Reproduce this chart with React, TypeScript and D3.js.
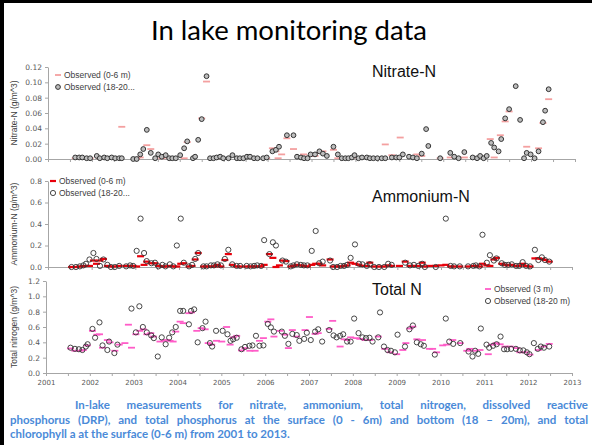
import React, { useRef, useEffect } from "react";
import * as d3 from "d3";

// year labels on the bottom axis
const yearLabels = [2001, 2002, 2003, 2004, 2005, 2006, 2007, 2008, 2009, 2010, 2011, 2012, 2013];

const nitrateTicks = [0, 0.02, 0.04, 0.06, 0.08, 0.1, 0.12];
const ammoniumTicks = [0, 0.2, 0.4, 0.6, 0.8];
const totalNTicks = [0, 0.2, 0.4, 0.6, 0.8, 1.0, 1.2];

// [decimal year, g/m^3]
const nitrateSurface = [
  [2001.62, 0.001], [2001.78, 0.001], [2001.96, 0.001], [2002.18, 0.001], [2002.35, 0.001], [2002.53, 0.001],
  [2002.68, 0.042], [2003.02, 0.0], [2003.1, 0.002], [2003.25, 0.018], [2003.34, 0.013], [2003.59, 0.001],
  [2003.76, 0.001], [2004.1, 0.001], [2004.17, 0.022], [2004.5, 0.053], [2004.61, 0.101], [2004.92, 0.001],
  [2005.37, 0.001], [2005.69, 0.001], [2005.98, 0.001], [2006.11, 0.014], [2006.19, 0.01], [2006.24, 0.001],
  [2006.32, 0.006], [2006.44, 0.027], [2006.59, 0.013], [2006.82, 0.006], [2006.98, 0.004], [2007.08, 0.004],
  [2007.18, 0.008], [2007.26, 0.01], [2007.5, 0.012], [2007.6, 0.001], [2008.0, 0.002], [2008.2, 0.002],
  [2008.33, 0.001], [2008.68, 0.019], [2008.83, 0.005], [2009.02, 0.028], [2009.4, 0.006], [2009.51, 0.004],
  [2009.93, 0.001], [2010.16, 0.002], [2010.48, 0.002], [2010.77, 0.002], [2011.07, 0.026], [2011.16, 0.002],
  [2011.3, 0.031], [2011.41, 0.049], [2011.5, 0.062], [2011.9, 0.016], [2012.17, 0.014], [2012.27, 0.047],
  [2012.4, 0.078],
];

const nitrateBottom = [
  [2001.62, 0.002], [2001.71, 0.002], [2001.78, 0.002], [2001.88, 0.001], [2001.96, 0.001], [2002.11, 0.004],
  [2002.18, 0.001], [2002.28, 0.002], [2002.35, 0.001], [2002.45, 0.002], [2002.53, 0.001], [2002.62, 0.001],
  [2002.68, 0.001], [2002.94, 0.0], [2003.02, 0.0], [2003.1, 0.006], [2003.17, 0.013], [2003.25, 0.038],
  [2003.34, 0.008], [2003.44, 0.001], [2003.51, 0.006], [2003.59, 0.003], [2003.68, 0.005], [2003.76, 0.001],
  [2003.83, 0.001], [2003.91, 0.001], [2004.01, 0.005], [2004.1, 0.014], [2004.17, 0.023], [2004.3, 0.001],
  [2004.35, 0.003], [2004.42, 0.025], [2004.5, 0.052], [2004.61, 0.108], [2004.69, 0.001], [2004.77, 0.001],
  [2004.84, 0.002], [2004.92, 0.003], [2004.99, 0.001], [2005.11, 0.001], [2005.2, 0.005], [2005.3, 0.001],
  [2005.37, 0.001], [2005.45, 0.001], [2005.53, 0.003], [2005.6, 0.003], [2005.69, 0.001], [2005.77, 0.001],
  [2005.9, 0.001], [2005.98, 0.002], [2006.11, 0.01], [2006.19, 0.012], [2006.26, 0.016], [2006.44, 0.031],
  [2006.59, 0.031], [2006.67, 0.003], [2006.76, 0.002], [2006.83, 0.001], [2006.91, 0.001], [2006.98, 0.006],
  [2007.08, 0.006], [2007.18, 0.01], [2007.26, 0.007], [2007.35, 0.004], [2007.5, 0.016], [2007.6, 0.006],
  [2007.69, 0.001], [2007.77, 0.001], [2007.84, 0.001], [2007.92, 0.002], [2007.98, 0.005], [2008.07, 0.001],
  [2008.15, 0.002], [2008.26, 0.002], [2008.33, 0.001], [2008.41, 0.001], [2008.5, 0.001], [2008.6, 0.001],
  [2008.68, 0.001], [2008.83, 0.002], [2008.93, 0.002], [2009.0, 0.002], [2009.08, 0.006], [2009.22, 0.003],
  [2009.31, 0.002], [2009.4, 0.001], [2009.51, 0.007], [2009.61, 0.039], [2009.66, 0.017], [2009.93, 0.001],
  [2010.16, 0.008], [2010.25, 0.003], [2010.35, 0.001], [2010.48, 0.009], [2010.67, 0.002], [2010.77, 0.001],
  [2010.84, 0.004], [2010.92, 0.001], [2010.99, 0.004], [2011.09, 0.021], [2011.16, 0.015], [2011.26, 0.01],
  [2011.32, 0.026], [2011.41, 0.053], [2011.5, 0.065], [2011.65, 0.095], [2011.75, 0.051], [2011.84, 0.001],
  [2011.9, 0.008], [2011.99, 0.006], [2012.08, 0.001], [2012.17, 0.01], [2012.27, 0.048], [2012.32, 0.063],
  [2012.4, 0.091],
];

const ammoniumSurface = [
  [2001.54, 0.0], [2001.64, 0.0], [2001.73, 0.005], [2001.81, 0.008], [2001.87, 0.01], [2001.95, 0.01],
  [2002.04, 0.06], [2002.11, 0.03], [2002.19, 0.06], [2002.27, 0.075], [2002.36, 0.01], [2002.44, 0.005],
  [2002.53, 0.005], [2002.63, 0.01], [2002.79, 0.01], [2002.88, 0.01], [2002.95, 0.01], [2003.03, 0.005],
  [2003.12, 0.1], [2003.2, 0.02], [2003.26, 0.05], [2003.37, 0.035], [2003.45, 0.035], [2003.53, 0.01],
  [2003.62, 0.005], [2003.69, 0.005], [2003.79, 0.01], [2003.87, 0.005], [2003.95, 0.005], [2004.04, 0.03],
  [2004.11, 0.035], [2004.23, 0.005], [2004.3, 0.01], [2004.37, 0.07], [2004.44, 0.13], [2004.56, 0.005],
  [2004.63, 0.005], [2004.73, 0.005], [2004.8, 0.005], [2004.88, 0.02], [2004.96, 0.005], [2005.05, 0.065],
  [2005.13, 0.12], [2005.22, 0.02], [2005.32, 0.005], [2005.4, 0.005], [2005.55, 0.005], [2005.64, 0.005],
  [2005.72, 0.005], [2005.79, 0.005], [2005.88, 0.005], [2005.95, 0.02], [2006.07, 0.12], [2006.15, 0.085],
  [2006.22, 0.0], [2006.3, 0.015], [2006.37, 0.06], [2006.45, 0.055], [2006.56, 0.005], [2006.62, 0.01],
  [2006.7, 0.02], [2006.79, 0.015], [2006.86, 0.01], [2006.94, 0.005], [2007.04, 0.02], [2007.13, 0.03],
  [2007.21, 0.03], [2007.29, 0.015], [2007.46, 0.07], [2007.53, 0.005], [2007.62, 0.005], [2007.7, 0.005],
  [2007.78, 0.01], [2007.85, 0.015], [2007.93, 0.04], [2008.03, 0.03], [2008.12, 0.02], [2008.2, 0.01],
  [2008.3, 0.01], [2008.37, 0.04], [2008.47, 0.005], [2008.58, 0.005], [2008.7, 0.005], [2008.79, 0.015],
  [2008.87, 0.01], [2009.05, 0.01], [2009.18, 0.05], [2009.29, 0.01], [2009.38, 0.01], [2009.48, 0.01],
  [2009.57, 0.04], [2009.63, 0.005], [2009.75, 0.01], [2009.88, 0.01], [2010.0, 0.015], [2010.11, 0.02],
  [2010.22, 0.005], [2010.3, 0.005], [2010.43, 0.005], [2010.62, 0.005], [2010.74, 0.01], [2010.8, 0.01],
  [2010.88, 0.005], [2010.95, 0.03], [2011.05, 0.015], [2011.12, 0.01], [2011.21, 0.07], [2011.27, 0.085],
  [2011.39, 0.03], [2011.46, 0.02], [2011.54, 0.015], [2011.62, 0.02], [2011.72, 0.01], [2011.79, 0.01],
  [2011.87, 0.03], [2011.95, 0.01], [2012.04, 0.005], [2012.15, 0.08], [2012.23, 0.08], [2012.31, 0.075],
  [2012.38, 0.065], [2012.48, 0.05],
];

const ammoniumBottom = [
  [2001.54, 0.0], [2001.64, 0.0], [2001.73, 0.006], [2001.81, 0.015], [2001.87, 0.03], [2001.95, 0.07],
  [2002.04, 0.13], [2002.11, 0.075], [2002.19, 0.01], [2002.27, 0.07], [2002.36, 0.02], [2002.44, 0.0],
  [2002.53, 0.0], [2002.63, 0.01], [2002.79, 0.006], [2002.88, 0.015], [2002.95, 0.01], [2003.03, 0.15],
  [2003.12, 0.45], [2003.2, 0.13], [2003.26, 0.055], [2003.37, 0.035], [2003.45, 0.04], [2003.53, 0.006],
  [2003.62, 0.02], [2003.69, 0.006], [2003.79, 0.025], [2003.87, 0.006], [2003.95, 0.2], [2004.04, 0.45],
  [2004.11, 0.04], [2004.23, 0.006], [2004.3, 0.02], [2004.37, 0.075], [2004.44, 0.13], [2004.56, 0.006],
  [2004.63, 0.006], [2004.73, 0.015], [2004.8, 0.015], [2004.88, 0.025], [2004.96, 0.015], [2005.05, 0.075],
  [2005.13, 0.16], [2005.22, 0.025], [2005.32, 0.01], [2005.4, 0.01], [2005.55, 0.01], [2005.64, 0.006],
  [2005.72, 0.01], [2005.79, 0.015], [2005.88, 0.01], [2005.95, 0.25], [2006.07, 0.12], [2006.15, 0.23],
  [2006.22, 0.2], [2006.37, 0.06], [2006.45, 0.05], [2006.56, 0.006], [2006.62, 0.015], [2006.7, 0.025],
  [2006.79, 0.02], [2006.86, 0.015], [2006.94, 0.015], [2007.04, 0.15], [2007.13, 0.335], [2007.21, 0.035],
  [2007.29, 0.05], [2007.46, 0.06], [2007.53, 0.0], [2007.62, 0.0], [2007.7, 0.01], [2007.78, 0.01],
  [2007.85, 0.02], [2007.93, 0.085], [2008.03, 0.21], [2008.12, 0.03], [2008.2, 0.025], [2008.3, 0.01],
  [2008.37, 0.027], [2008.47, 0.0], [2008.58, 0.0], [2008.7, 0.0], [2008.79, 0.03], [2008.87, 0.02],
  [2009.18, 0.04], [2009.29, 0.015], [2009.38, 0.02], [2009.48, 0.01], [2009.57, 0.03], [2009.63, 0.0],
  [2009.88, 0.0], [2010.11, 0.45], [2010.22, 0.01], [2010.3, 0.006], [2010.43, 0.006], [2010.62, 0.006],
  [2010.74, 0.01], [2010.8, 0.015], [2010.88, 0.006], [2010.95, 0.3], [2011.05, 0.04], [2011.12, 0.11],
  [2011.21, 0.06], [2011.27, 0.08], [2011.39, 0.035], [2011.46, 0.02], [2011.54, 0.02], [2011.62, 0.025],
  [2011.72, 0.01], [2011.79, 0.01], [2011.87, 0.045], [2011.95, 0.01], [2012.04, 0.006], [2012.15, 0.16],
  [2012.23, 0.065], [2012.31, 0.09], [2012.38, 0.065], [2012.48, 0.05],
];

const totalNSurface = [
  [2001.56, 0.32], [2001.66, 0.29], [2001.78, 0.29], [2001.85, 0.3], [2001.94, 0.36], [2002.06, 0.55],
  [2002.16, 0.5], [2002.22, 0.505], [2002.29, 0.33], [2002.4, 0.43], [2002.46, 0.4], [2002.57, 0.29],
  [2002.67, 0.37], [2002.8, 0.39], [2002.88, 0.63], [2002.95, 0.33], [2003.05, 0.505], [2003.14, 0.55],
  [2003.22, 0.57], [2003.3, 0.505], [2003.39, 0.52], [2003.45, 0.475], [2003.6, 0.41], [2003.69, 0.42],
  [2003.75, 0.43], [2003.83, 0.42], [2003.9, 0.41], [2003.96, 0.54], [2004.06, 0.67], [2004.13, 0.65],
  [2004.26, 0.78], [2004.32, 0.79], [2004.44, 0.55], [2004.54, 0.585], [2004.63, 0.57], [2004.7, 0.39],
  [2004.78, 0.37], [2004.89, 0.42], [2005.01, 0.41], [2005.12, 0.6], [2005.2, 0.37], [2005.27, 0.465],
  [2005.35, 0.485], [2005.46, 0.295], [2005.54, 0.325], [2005.65, 0.29], [2005.77, 0.29], [2005.87, 0.42],
  [2005.96, 0.455], [2006.06, 0.67], [2006.13, 0.7], [2006.2, 0.475], [2006.34, 0.55], [2006.45, 0.5],
  [2006.53, 0.325], [2006.62, 0.56], [2006.72, 0.475], [2006.91, 0.56], [2007.01, 0.73], [2007.14, 0.51],
  [2007.21, 0.52], [2007.46, 0.575], [2007.54, 0.68], [2007.71, 0.345], [2007.8, 0.44], [2007.87, 0.43],
  [2007.95, 0.465], [2008.07, 0.455], [2008.16, 0.445], [2008.28, 0.43], [2008.39, 0.43], [2008.58, 0.475],
  [2008.73, 0.315], [2008.85, 0.27], [2009.0, 0.245], [2009.14, 0.3], [2009.21, 0.39], [2009.3, 0.58],
  [2009.37, 0.605], [2009.46, 0.44], [2009.59, 0.43], [2009.75, 0.315], [2009.82, 0.315], [2009.91, 0.27],
  [2010.05, 0.36], [2010.14, 0.37], [2010.28, 0.43], [2010.45, 0.39], [2010.6, 0.29], [2010.67, 0.315],
  [2010.76, 0.29], [2010.9, 0.3], [2011.09, 0.245], [2011.17, 0.37], [2011.27, 0.39], [2011.36, 0.375],
  [2011.47, 0.345], [2011.59, 0.345], [2011.74, 0.325], [2011.81, 0.27], [2011.93, 0.27], [2012.04, 0.24],
  [2012.23, 0.3], [2012.36, 0.345], [2012.48, 0.38],
];

const totalNBottom = [
  [2001.56, 0.33], [2001.66, 0.315], [2001.75, 0.31], [2001.83, 0.3], [2001.91, 0.345], [2001.95, 0.375],
  [2002.06, 0.575], [2002.12, 0.46], [2002.22, 0.66], [2002.29, 0.36], [2002.4, 0.3], [2002.44, 0.41],
  [2002.56, 0.26], [2002.63, 0.37], [2002.95, 0.84], [2003.05, 0.53], [2003.13, 0.87], [2003.21, 0.6],
  [2003.3, 0.53], [2003.4, 0.49], [2003.46, 0.455], [2003.55, 0.215], [2003.64, 0.465], [2003.73, 0.375],
  [2003.81, 0.46], [2003.88, 0.53], [2003.96, 0.6], [2004.06, 0.81], [2004.13, 0.81], [2004.26, 0.635],
  [2004.31, 0.81], [2004.38, 0.83], [2004.46, 0.4], [2004.57, 0.585], [2004.64, 0.67], [2004.74, 0.39],
  [2004.79, 0.345], [2004.88, 0.55], [2005.03, 0.55], [2005.14, 0.505], [2005.21, 0.42], [2005.27, 0.44],
  [2005.35, 0.46], [2005.46, 0.31], [2005.54, 0.34], [2005.64, 0.355], [2005.71, 0.36], [2005.79, 0.485],
  [2005.87, 0.355], [2005.96, 0.36], [2006.06, 0.64], [2006.13, 0.595], [2006.2, 0.54], [2006.38, 0.54],
  [2006.45, 0.485], [2006.53, 0.38], [2006.62, 0.51], [2006.72, 0.495], [2006.78, 0.42], [2006.89, 0.445],
  [2006.95, 0.525], [2007.04, 0.43], [2007.14, 0.54], [2007.21, 0.57], [2007.3, 0.41], [2007.46, 0.56],
  [2007.56, 0.49], [2007.63, 0.465], [2007.71, 0.485], [2007.78, 0.505], [2007.87, 0.41], [2007.95, 0.41],
  [2008.03, 0.71], [2008.13, 0.52], [2008.22, 0.465], [2008.3, 0.455], [2008.38, 0.46], [2008.45, 0.41],
  [2008.58, 0.465], [2008.62, 0.79], [2008.71, 0.345], [2008.79, 0.3], [2008.87, 0.29], [2008.96, 0.27],
  [2009.02, 0.5], [2009.19, 0.345], [2009.29, 0.57], [2009.37, 0.62], [2009.46, 0.4], [2009.55, 0.375],
  [2009.62, 0.355], [2009.87, 0.24], [2010.12, 0.71], [2010.2, 0.41], [2010.29, 0.38], [2010.45, 0.39],
  [2010.64, 0.28], [2010.73, 0.215], [2010.79, 0.29], [2010.86, 0.25], [2010.92, 0.58], [2011.05, 0.37],
  [2011.11, 0.33], [2011.2, 0.355], [2011.28, 0.375], [2011.37, 0.475], [2011.45, 0.31], [2011.52, 0.31],
  [2011.61, 0.315], [2011.72, 0.315], [2011.81, 0.295], [2011.89, 0.295], [2011.97, 0.27], [2012.03, 0.245],
  [2012.13, 0.39], [2012.22, 0.315], [2012.29, 0.345], [2012.36, 0.33], [2012.48, 0.345],
];

const captionLines = [
  "In-lake measurements for nitrate, ammonium, total nitrogen, dissolved reactive",
  "phosphorus (DRP), and total phosphorus at the surface (0 - 6m) and bottom (18 \u2013 20m), and total",
  "chlorophyll a at the surface (0-6 m) from 2001 to 2013.",
];

const panels = [
  {
    title: "Nitrate-N", yLabel: "Nitrate-N (g/m^3)", ticks: nitrateTicks, fmt: ".2f",
    surface: nitrateSurface, bottom: nitrateBottom,
    legend: ["Observed (0-6 m)", "Observed (18-20..."],
    xRange: [48, 575], yRange: [159, 67], titleY: 77, legendX: 55, legendY: 75,
    dash: "#f4a0a0", dashW: 1.8, circleFill: "#bdbdbd", circleStroke: "#333", circleW: 1,
    r: 2.4,
  },
  {
    title: "Ammonium-N", yLabel: "Ammonium-N (g/m^3)", ticks: ammoniumTicks, fmt: ".1f",
    surface: ammoniumSurface, bottom: ammoniumBottom,
    legend: ["Observed (0-6 m)", "Observed (18-20..."],
    xRange: [48, 572], yRange: [267, 181], titleY: 202, legendX: 50, legendY: 181,
    dash: "#e8000b", dashW: 2.2, circleFill: "none", circleStroke: "#333", circleW: 0.9,
    r: 2.6,
  },
  {
    title: "Total N", yLabel: "Total nitrogen (g/m^3)", ticks: totalNTicks, fmt: ".1f",
    surface: totalNSurface, bottom: totalNBottom,
    legend: ["Observed (3 m)", "Observed (18-20 m)"],
    xRange: [46, 572], yRange: [373, 281], titleY: 295, legendX: 485, legendY: 289,
    dash: "#ff5cc8", dashW: 1.8, circleFill: "none", circleStroke: "#333", circleW: 0.9,
    r: 2.6,
  },
];

const App = () => {
  const svgRef = useRef<SVGSVGElement>(null);

  useEffect(() => {
    const svg = d3.select(svgRef.current);
    svg.selectAll("*").remove();

    svg.append("rect").attr("width", 592).attr("height", 445).attr("fill", "#fff");

    // slide frame (black edges on left and top)
    svg.append("rect").attr("x", 0).attr("y", 0).attr("width", 4).attr("height", 445).attr("fill", "#000");
    svg.append("rect").attr("x", 0).attr("y", 0).attr("width", 592).attr("height", 3).attr("fill", "#000");

    svg.append("text")
      .attr("x", 289)
      .attr("y", 40)
      .attr("text-anchor", "middle")
      .style("font-family", "Lato, 'Open Sans', sans-serif")
      .style("font-size", "27.5px")
      .attr("fill", "#000")
      .text("In lake monitoring data");

    const halfYears = d3.range(2001, 2013.01, 0.5);

    panels.forEach((p, i) => {
      const x = d3.scaleLinear().domain([2001, 2013]).range(p.xRange);
      const y = d3.scaleLinear().domain([0, p.ticks[p.ticks.length - 1]]).range(p.yRange);
      const g = svg.append("g");
      const isLast = i === panels.length - 1;

      // x axis
      const xAxis = g.append("g")
        .attr("transform", `translate(0,${p.yRange[0]})`)
        .call(
          d3.axisBottom(x)
            .tickValues(halfYears)
            .tickSize(3)
            .tickSizeOuter(0)
            .tickFormat((d) => (isLast && yearLabels.includes(d as number) ? String(d) : ""))
        );
      xAxis.select(".domain").attr("stroke", "#a6a6a6");
      xAxis.selectAll(".tick line").attr("stroke", "#a6a6a6");
      xAxis.selectAll("text")
        .attr("fill", "#595959")
        .attr("dy", "0.9em")
        .style("font-family", "'DejaVu Sans', sans-serif")
        .style("font-size", "7px");

      // y axis
      const yAxis = g.append("g")
        .attr("transform", `translate(${p.xRange[0]},0)`)
        .call(d3.axisLeft(y).tickValues(p.ticks).tickSize(3).tickSizeOuter(0).tickFormat(d3.format(p.fmt)));
      yAxis.select(".domain").attr("stroke", "#a6a6a6");
      yAxis.selectAll(".tick line").attr("stroke", "#a6a6a6");
      yAxis.selectAll("text")
        .attr("fill", "#595959")
        .attr("x", -6)
        .style("font-family", "'DejaVu Sans', sans-serif")
        .style("font-size", "7.5px");

      // y label
      g.append("text")
        .attr("transform", `translate(17,${(p.yRange[0] + p.yRange[1]) / 2}) rotate(-90)`)
        .attr("text-anchor", "middle")
        .attr("fill", "#404040")
        .style("font-family", "'Liberation Sans', Arial, sans-serif")
        .style("font-size", "8.5px")
        .text(p.yLabel);

      // panel title
      g.append("text")
        .attr("x", 372)
        .attr("y", p.titleY)
        .attr("fill", "#111")
        .style("font-family", "'Liberation Sans', Arial, sans-serif")
        .style("font-size", "16px")
        .text(p.title);

      // surface dashes
      g.selectAll(".dash")
        .data(p.surface)
        .enter()
        .append("line")
        .attr("x1", (d) => x(d[0]) - 3.5)
        .attr("x2", (d) => x(d[0]) + 3.5)
        .attr("y1", (d) => y(d[1]))
        .attr("y2", (d) => y(d[1]))
        .attr("stroke", p.dash)
        .attr("stroke-width", p.dashW);

      // bottom circles
      g.selectAll(".pt")
        .data(p.bottom)
        .enter()
        .append("circle")
        .attr("cx", (d) => x(d[0]))
        .attr("cy", (d) => y(d[1]))
        .attr("r", p.r)
        .attr("fill", p.circleFill)
        .attr("stroke", p.circleStroke)
        .attr("stroke-width", p.circleW);

      // legend
      const lg = g.append("g").attr("transform", `translate(${p.legendX},${p.legendY})`);
      lg.append("line").attr("x1", 0).attr("x2", 6).attr("y1", 0).attr("y2", 0)
        .attr("stroke", p.dash).attr("stroke-width", p.dashW);
      lg.append("circle").attr("cx", 3).attr("cy", 12).attr("r", p.r)
        .attr("fill", p.circleFill).attr("stroke", p.circleStroke).attr("stroke-width", p.circleW);
      p.legend.forEach((t, k) => {
        lg.append("text")
          .attr("x", 9)
          .attr("y", k * 12 + 3)
          .attr("fill", "#404040")
          .style("font-family", "'Liberation Sans', Arial, sans-serif")
          .style("font-size", "8.5px")
          .text(t);
      });
    });

    // caption, justified by widening the word gaps
    const capStarts = [75, 10, 10];
    captionLines.forEach((line, k) => {
      const t = svg.append("text")
        .attr("x", capStarts[k])
        .attr("y", 409 + k * 14.5)
        .attr("fill", "#4a8ad8")
        .style("font-family", "Lato, 'Open Sans', sans-serif")
        .style("font-weight", "bold")
        .style("font-size", "11.5px")
        .text(line);
      if (k < 2) {
        const natural = (t.node() as SVGTextElement).getComputedTextLength();
        const gaps = line.split(" ").length - 1;
        const extra = (588 - capStarts[k] - natural) / gaps;
        if (extra > 0) t.attr("word-spacing", extra);
      }
    });
  }, []);

  return (
    <svg
      ref={svgRef}
      width={592}
      height={445}
      style={{ position: "absolute", left: 0, top: 0 }}
    />
  );
};

export default App;
